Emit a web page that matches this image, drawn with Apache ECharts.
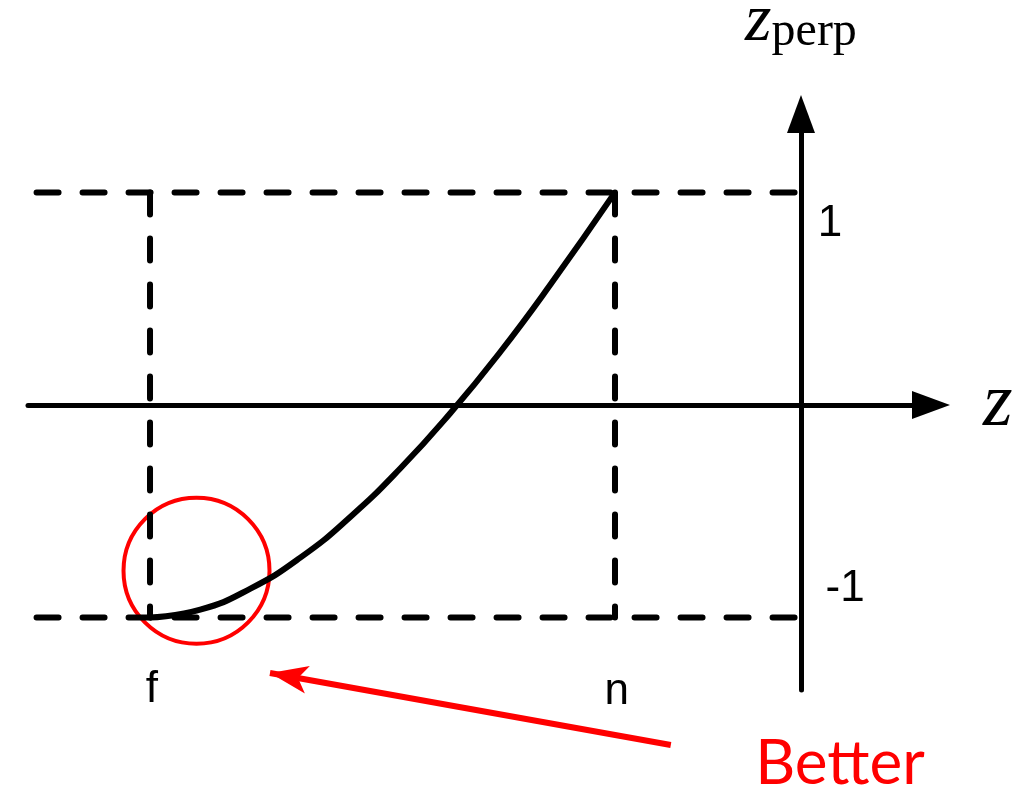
<!DOCTYPE html>
<html>
<head>
<meta charset="utf-8">
<script src="https://cdn.jsdelivr.net/npm/echarts@6/dist/echarts.min.js"></script>
<style>
  html, body { margin: 0; padding: 0; background: #fff; }
  #chart { width: 1025px; height: 790px; }
</style>
</head>
<body>
<div id="chart"></div>
<script>
  // depth values f (far) and n (near) on the z axis
  const fZ = -3.5
  const nZ = -1
  const boxLeft = -4.11

  // the mapping curve
  const curveZ = [-3.5, -3.23, -2.96, -2.69, -2.425, -2.155, -1.887, -1.618, -1.349, -1.0]
  const curveZp = [-1, -0.963, -0.864, -0.717, -0.528, -0.299, -0.04, 0.248, 0.564, 1]

  // tick labels
  const tickText = ['1', '-1', 'f', 'n']
  const tickZ = [0.156, 0.237, -3.49, -0.99]
  const tickZp = [0.852, -0.866, -1.341, -1.352]

  // annotation
  const circleCenter = [-3.25, -0.78]
  const arrowFrom = [-0.7, -1.6]
  const arrowTo = [-2.855, -1.261]
  const noteText = 'Better'
  const notePos = [0.21, -1.69]

  const boxSegments = [
    [[boxLeft, 1], [0, 1]],
    [[boxLeft, -1], [0, -1]],
    [[fZ, 1], [fZ, -1]],
    [[nZ, 1], [nZ, -1]]
  ]

  const chart = echarts.init(document.getElementById('chart'))

  const axisBase = {
    type: 'value',
    axisLine: {
      onZero: true,
      symbol: ['none', 'triangle'],
      symbolSize: [28, 38],
      lineStyle: { color: '#000', width: 5 }
    },
    axisTick: { show: false },
    axisLabel: { show: false },
    splitLine: { show: false }
  }

  const series = boxSegments.map(function (seg) {
    return {
      type: 'line',
      data: seg,
      showSymbol: false,
      silent: true,
      clip: false,
      lineStyle: { color: '#000', width: 6, type: [22, 24], cap: 'round' }
    }
  })

  series.push({
    type: 'line',
    data: curveZ.map(function (z, i) { return [z, curveZp[i]] }),
    smooth: 0.5,
    showSymbol: false,
    clip: false,
    lineStyle: { color: '#000', width: 6 }
  })

  series.push({
    type: 'scatter',
    data: [circleCenter],
    symbol: 'circle',
    symbolSize: 146,
    clip: false,
    itemStyle: { color: 'rgba(0,0,0,0)', borderColor: '#ff0000', borderWidth: 4, opacity: 1 }
  })

  series.push({
    type: 'lines',
    coordinateSystem: 'cartesian2d',
    clip: false,
    symbol: ['none', 'arrow'],
    symbolSize: [0, [21, 38]],
    lineStyle: { color: '#ff0000', width: 6, opacity: 1, curveness: 0 },
    data: [{ coords: [arrowFrom, arrowTo] }]
  })

  const labelData = tickText.map(function (t, i) {
    return {
      value: [tickZ[i], tickZp[i]],
      name: t,
      label: { fontFamily: 'Liberation Sans, Arial, sans-serif', fontSize: 44, color: '#000' }
    }
  })
  labelData.push({
    value: notePos,
    name: noteText,
    label: { fontFamily: 'Lato, sans-serif', fontSize: 62, color: '#ff0000' }
  })

  series.push({
    type: 'scatter',
    data: labelData,
    symbolSize: 0,
    clip: false,
    silent: true,
    itemStyle: { color: 'rgba(0,0,0,0)', opacity: 1 },
    label: {
      show: true,
      position: 'inside',
      opacity: 1,
      textBorderWidth: 0,
      formatter: function (p) { return p.name }
    }
  })

  chart.setOption({
    animation: false,
    grid: { left: 28, right: 94, top: 114, bottom: 100, containLabel: false, outerBoundsMode: 'none' },
    xAxis: Object.assign({}, axisBase, {
      min: -4.156,
      max: 0.699,
      name: 'z',
      nameLocation: 'end',
      nameGap: 52,
      nameTextStyle: {
        fontFamily: 'Liberation Serif, serif',
        fontStyle: 'italic',
        fontSize: 76,
        color: '#000'
      }
    }),
    yAxis: Object.assign({}, axisBase, {
      min: -1.341,
      max: 1.369,
      name: '{z|z}{p|perp}',
      nameLocation: 'end',
      nameGap: 58,
      nameTextStyle: {
        color: '#000',
        rich: {
          z: { fontFamily: 'Liberation Serif, serif', fontStyle: 'italic', fontSize: 68, verticalAlign: 'bottom' },
          p: { fontFamily: 'Liberation Serif, serif', fontSize: 48, verticalAlign: 'bottom' }
        }
      }
    }),
    series: series
  })
</script>
</body>
</html>
